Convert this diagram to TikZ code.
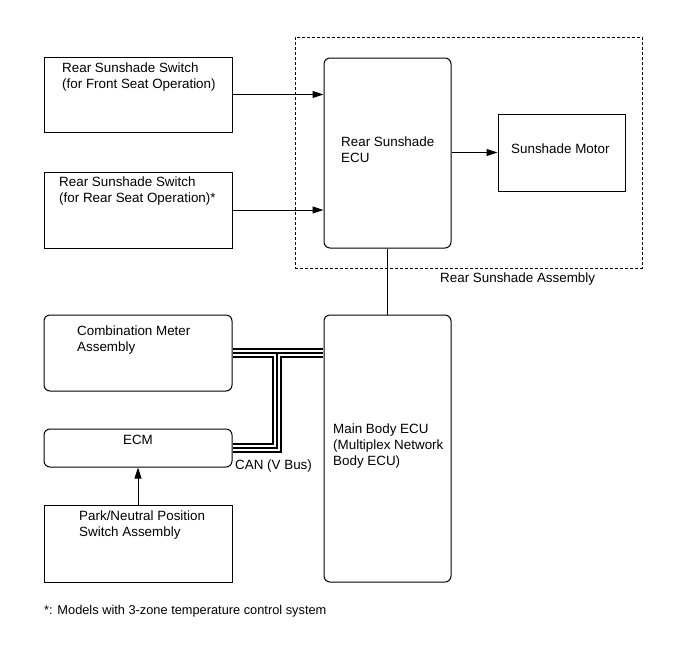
\documentclass[tikz,border=0pt]{standalone}
\usepackage{fontspec}
\setmainfont{Liberation Sans}
\usetikzlibrary{arrows.meta}
\tikzset{
  unit/.style={draw, line width=1pt, inner sep=0pt},
  ecu/.style={unit, rounded corners=6pt},
  txt/.style={anchor=north west, inner sep=0pt, align=left, font=\fontsize{13.4pt}{15.6pt}\selectfont},
  sig/.style={line width=1pt, -{Triangle[length=11pt,width=7pt]}},
}
\begin{document}
\begin{tikzpicture}[x=1pt,y=-1pt]
  \useasboundingbox (0,0) rectangle (690,659);
  \node[unit, dash pattern=on 3pt off 2pt, minimum width=347pt, minimum height=231pt] (assy) at (468.5,152.5) {};

  \node[unit, minimum width=188pt, minimum height=75pt] (swfront) at (138,94.5) {};
  \node[unit, minimum width=188pt, minimum height=76pt] (swrear) at (138,210) {};
  \node[ecu, minimum width=127pt, minimum height=190pt] (rsecu) at (387.5,153) {};
  \node[unit, minimum width=127pt, minimum height=77pt] (motor) at (561.5,152.5) {};
  \node[ecu, minimum width=188pt, minimum height=76pt] (meter) at (138,353) {};
  \node[ecu, minimum width=188pt, minimum height=38pt] (ecm) at (138,448) {};
  \node[unit, minimum width=188pt, minimum height=77pt] (pnsw) at (138,543.5) {};
  \node[ecu, minimum width=127pt, minimum height=267pt] (mbecu) at (387.5,448.5) {};

  \node[txt] (swfrontlbl) at (62,63) {Rear Sunshade Switch\\(for Front Seat Operation)};
  \node[txt] (swrearlbl) at (59,177) {Rear Sunshade Switch\\(for Rear Seat Operation)*};
  \node[txt] (rsecului) at (341,137) {Rear Sunshade\\ECU};
  \node[txt] (motorlbl) at (511,144) {Sunshade Motor};
  \node[txt] (assylbl) at (440,273) {Rear Sunshade Assembly};
  \node[txt] (meterlbl) at (77,326) {Combination Meter\\Assembly};
  \node[txt, anchor=center] (ecmlbl) at (138,440) {ECM};
  \node[txt] (pnswlbl) at (79,511) {Park/Neutral Position\\Switch Assembly};
  \node[txt] (mbeculbl) at (333,424) {Main Body ECU\\(Multiplex Network\\Body ECU)};
  \node[txt] (canlbl) at (235,460) {CAN (V Bus)};
  \node[txt, font=\fontsize{12.8pt}{15pt}\selectfont] (note) at (44,605) {*: Models with 3-zone temperature control system};

  \draw[sig] (swfront.east) -- (swfront.east -| rsecu.west);
  \draw[sig] (swrear.east) -- (swrear.east -| rsecu.west);
  \draw[sig] (rsecu.east |- motor.west) -- (motor.west);
  \draw[line width=1pt] (rsecu) -- (mbecu);
  \draw[sig] (pnsw) -- (ecm);

  \coordinate (tee) at (277,353);
  \foreach \lw/\col in {10pt/black,5.5pt/white,1.2pt/black}{
    \draw[line width=\lw, color=\col, shorten <=0.5pt, shorten >=0.5pt] (meter.east) -- (meter.east -| mbecu.west);
    \draw[line width=\lw, color=\col, line join=miter, shorten >=0.5pt] (tee) |- (ecm.east);
  }
\end{tikzpicture}
\end{document}
